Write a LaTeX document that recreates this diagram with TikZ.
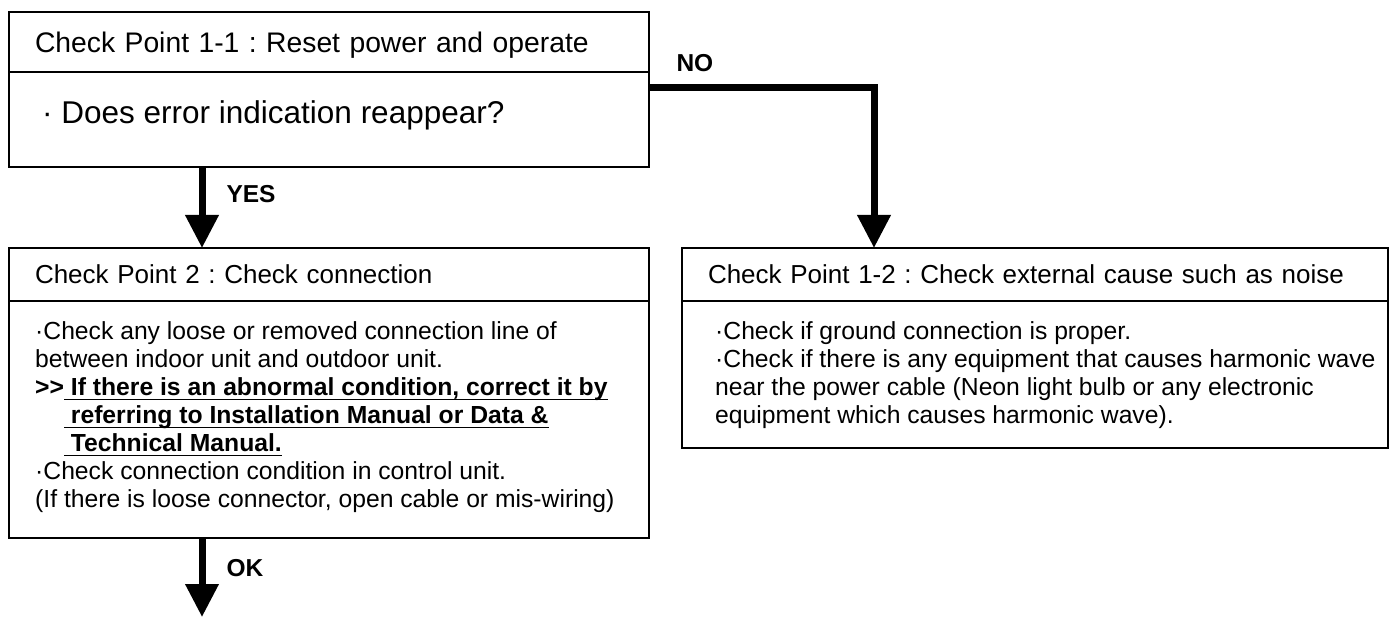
\documentclass[tikz,border=0pt]{standalone}
\usepackage{fontspec}
\setmainfont{Liberation Sans}
\frenchspacing
\usetikzlibrary{%
	arrows.meta,%
	positioning,%
	calc,%
}
\tikzset{
	>={Triangle[length=33pt,width=32pt]},%
	cphead/.style={%
			draw,%
			rectangle,%
			line width=1.8pt,%
			outer sep=0pt,%
			inner xsep=26pt,%
			inner ysep=0pt,%
			anchor=north west,%
			align=left,%
			text depth=0pt},%
	cpbody/.style={%
			draw,%
			rectangle,%
			line width=1.8pt,%
			outer sep=0pt,%
			inner sep=0pt},%
	cptext/.style={%
			inner sep=0pt,%
			anchor=base west,%
			font={\fontsize{24.7}{28}\selectfont}},%
	flowline/.style={%
			line width=7pt,%
			->},%
	flowlabel/.style={%
			inner sep=0pt,%
			anchor=west,%
			text height=17.5pt,%
			text depth=0pt,%
			font={\bfseries\fontsize{24.5}{24.5}\selectfont}},%
}
% bold text with a heavier underline
\newcommand{\ulb}[1]{\textbf{\setbox0\hbox{#1}\rlap{\rule[-4.5pt]{\wd0}{1.8pt}}\box0}}
\newcommand{\cplines}[1]{\parbox[t]{680pt}{\raggedright\frenchspacing#1}}

\begin{document}
\begin{tikzpicture}[x=1pt, y=-1pt]
	\useasboundingbox (0,0) rectangle (1395,617);

	% check point 1-1
	\node[cphead, text width=588pt, minimum height=60pt, text height=20.3pt,
		font={\fontsize{28.3}{32}\selectfont}] (cp11h) at (9,12)
		{Check Point 1-1 : Reset power and operate};
	\node[cpbody, minimum width=640pt, minimum height=95pt, below=0pt of cp11h] (cp11b) {};
	\node[cptext, font={\fontsize{31.5}{34}\selectfont}] (cp11t) at ($(cp11b.north west)+(33,52)$)
		{· Does error indication reappear?};

	% check point 2
	\node[cphead, text width=588pt, minimum height=53pt, text height=18.7pt,
		font={\fontsize{26}{28}\selectfont}] (cp2h) at (9,248)
		{Check Point 2 : Check connection};
	\node[cpbody, minimum width=640pt, minimum height=237pt, below=0pt of cp2h] (cp2b) {};
	\node[cptext] (cp2t) at ($(cp2b.north west)+(26,39)$)
		{\cplines{·Check any loose or removed connection line of\\
		between indoor unit and outdoor unit.\\
		\textbf{>{}>}\ulb{\ If there is an abnormal condition, correct it by}\\
		\phantom{\textbf{>{}>}}\ulb{\ referring to Installation Manual or Data \&}\\
		\phantom{\textbf{>{}>}}\ulb{\ Technical Manual.}\\
		·Check connection condition in control unit.\\
		(If there is loose connector, open cable or mis-wiring)}};

	% check point 1-2
	\node[cphead, text width=654pt, minimum height=53pt, text height=18.7pt,
		font={\fontsize{26}{28}\selectfont}] (cp12h) at (682,248)
		{Check Point 1-2 : Check external cause such as noise};
	\node[cpbody, minimum width=706pt, minimum height=147pt, below=0pt of cp12h] (cp12b) {};
	\node[cptext] (cp12t) at ($(cp12b.north west)+(33,39)$)
		{\cplines{·Check if ground connection is proper.\\
		·Check if there is any equipment that causes harmonic wave\\
		near the power cable (Neon light bulb or any electronic\\
		equipment which causes harmonic wave).}};

	\coordinate (okend) at (202,617);

	\draw[flowline] ([xshift=193pt]cp11b.south west) -- node[flowlabel, pos=0.33, xshift=21pt] {YES} ([xshift=193pt]cp2h.north west);
	\draw[flowline] ([yshift=-16pt]cp11b.north east) -| node[flowlabel, at start, anchor=south west, xshift=24pt, yshift=13pt] {NO} ([xshift=192pt]cp12h.north west);
	\draw[flowline] ([xshift=193pt]cp2b.south west) -- node[flowlabel, pos=0.38, xshift=21pt] {OK} (okend);
\end{tikzpicture}
\end{document}
